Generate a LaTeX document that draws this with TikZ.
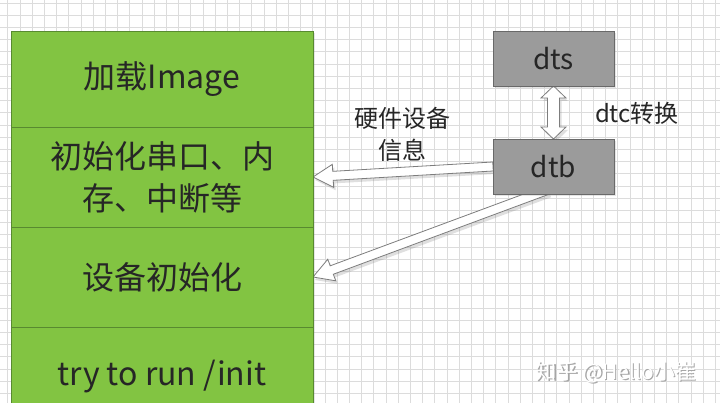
\documentclass[tikz,border=0pt]{standalone}
\usepackage{fontspec}
\setmainfont{Noto Sans CJK SC}
\usetikzlibrary{positioning,calc,shadows}

\definecolor{layergreen}{RGB}{130,196,66}
\definecolor{layeredge}{RGB}{88,138,48}
\definecolor{blobgray}{RGB}{155,155,155}
\definecolor{blobedge}{RGB}{105,105,105}
\definecolor{gridgray}{RGB}{220,220,220}
\definecolor{arredge}{RGB}{125,125,125}

\pgfdeclarelayer{gridlayer}
\pgfdeclarelayer{arrowlayer}
\pgfsetlayers{gridlayer,arrowlayer,main}

% block arrow: from, to, half shaft, half head, head length
\newcommand\blockarr[5]{%
  \draw[fatarr] let \p1=(#1), \p2=(#2), \n1={atan2(\y2-\y1,\x2-\x1)}, \n2={veclen(\x2-\x1,\y2-\y1)} in
    (\p1) ++(\n1+90:#3) -- ++(\n1:{\n2-#5}) -- ++(\n1+90:{#4-#3}) -- (\p2)
    -- ($(\p1)+(\n1:{\n2-#5})+(\n1-90:#4)$) -- ++(\n1+90:{#4-#3}) -- ++(\n1+180:{\n2-#5}) -- cycle;}

% two-headed block arrow: from, to, half shaft, half head, head length
\newcommand\dblarr[5]{%
  \draw[fatarr] let \p1=(#1), \p2=(#2), \n1={atan2(\y2-\y1,\x2-\x1)} in
    (\p1) -- ($(\p1)+(\n1:#5)+(\n1+90:#4)$) -- ($(\p1)+(\n1:#5)+(\n1+90:#3)$)
    -- ($(\p2)+(\n1+180:#5)+(\n1+90:#3)$) -- ($(\p2)+(\n1+180:#5)+(\n1+90:#4)$) -- (\p2)
    -- ($(\p2)+(\n1+180:#5)+(\n1-90:#4)$) -- ($(\p2)+(\n1+180:#5)+(\n1-90:#3)$)
    -- ($(\p1)+(\n1:#5)+(\n1-90:#3)$) -- ($(\p1)+(\n1:#5)+(\n1-90:#4)$) -- cycle;}

\begin{document}
\begin{tikzpicture}[x=1pt, y=-1pt,
  layer/.style={draw=layeredge, fill=layergreen, line width=0.8pt, minimum width=302pt, minimum height=100pt, inner sep=0pt, outer sep=0pt, align=center, font=\fontsize{32}{42}\selectfont, text=black!85, drop shadow={shadow xshift=2pt, shadow yshift=-2pt, opacity=0.2}},
  blob/.style={draw=blobedge, fill=blobgray, line width=0.8pt, minimum width=121pt, minimum height=55pt, inner sep=0pt, outer sep=0pt, font=\fontsize{28}{32}\selectfont, text=black!85, drop shadow={shadow xshift=2pt, shadow yshift=-2pt, opacity=0.2}},
  lbl/.style={align=center, font=\fontsize{24}{32}\selectfont, text=black!85},
  wmark/.style={font=\fontsize{21}{24}\selectfont},
  gridline/.style={draw=gridgray, line width=0.7pt},
  fatarr/.style={draw=arredge, fill=white, line width=0.8pt, line join=miter, drop shadow={shadow xshift=2pt, shadow yshift=-3pt, opacity=0.25}}
]
\useasboundingbox (0,0) rectangle (720,403);
\clip (0,0) rectangle (720,403);

\begin{pgfonlayer}{gridlayer}
  \fill[white] (0,0) rectangle (720,403);
  \foreach \gx in {7.8,20,...,720} \draw[gridline] (\gx,0) -- (\gx,403);
  \foreach \gy in {3,15.2,...,403} \draw[gridline] (0,\gy) -- (720,\gy);
\end{pgfonlayer}

% boot stages
\node[layer, minimum height=96pt] (load) at (162,79) {加载Image};
\node[layer, below=0pt of load] (hwinit) {初始化串口、内\\存、中断等};
\node[layer, below=0pt of hwinit] (devinit) {设备初始化};
\node[layer, below=0pt of devinit] (runinit) {try to run /init};

% device tree
\node[blob] (dts) at (553.5,58.5) {dts};
\node[blob, below=53pt of dts] (dtb) {dtb};

\node[lbl] (hwinfo) at (402,134) {硬件设备\\信息};
\node[lbl] (dtclbl) at (637,113) {dtc转换};

\begin{pgfonlayer}{arrowlayer}
  \dblarr{dts.south}{dtb.north}{6pt}{12.5pt}{12pt}
  \blockarr{dtb.west}{hwinit.east}{4.5pt}{11.5pt}{20pt}
  \blockarr{$(dtb.south)+(-6,-4)$}{devinit.east}{4.5pt}{11.5pt}{20pt}
\end{pgfonlayer}

\node[wmark, text=black!35] (wmshadow) at (617.5,373.5) {知乎 @Hello小崔};
\node[wmark, text=white] (wm) at (616,372) {知乎 @Hello小崔};
\end{tikzpicture}
\end{document}
